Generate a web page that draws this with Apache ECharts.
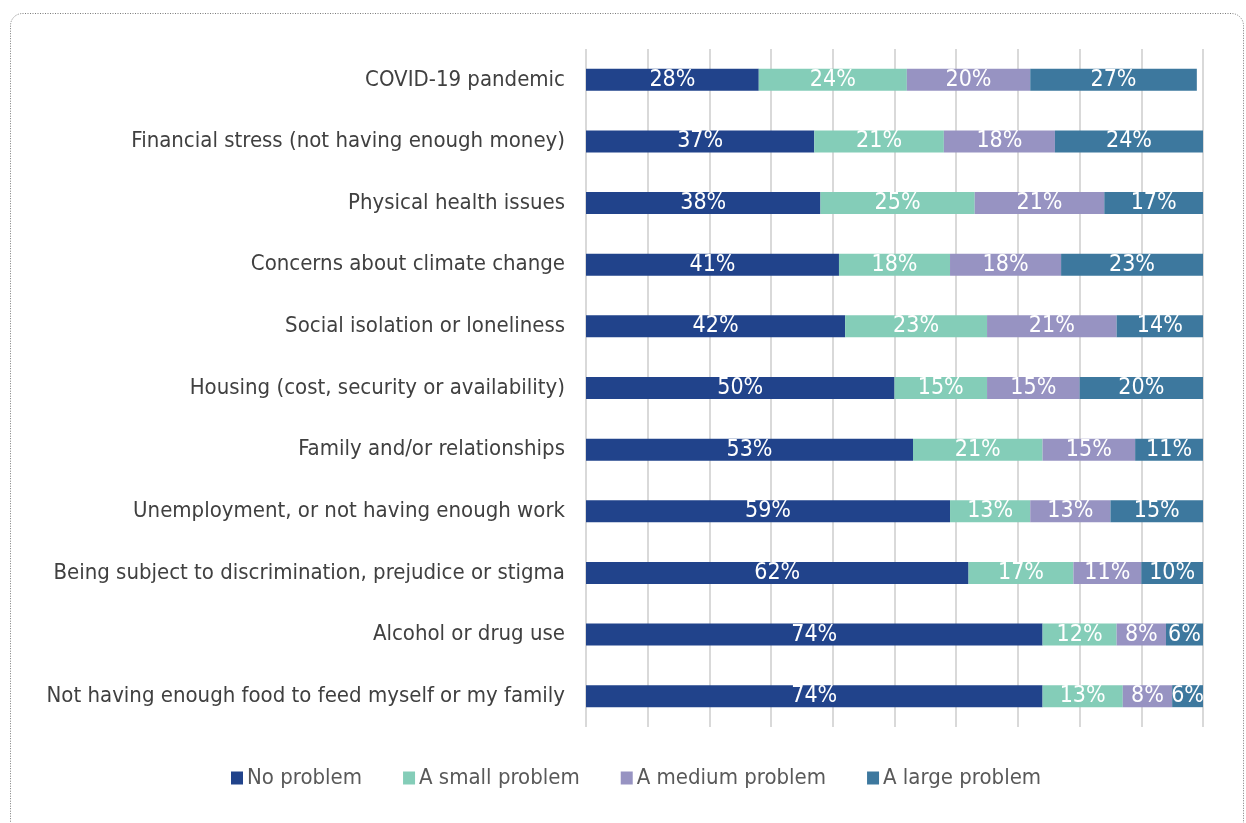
<!DOCTYPE html>
<html>
<head>
<meta charset="utf-8">
<style>
  html, body { margin: 0; padding: 0; background: #ffffff; }
  #chart { width: 1246px; height: 823px; }
</style>
<script src="https://cdn.jsdelivr.net/npm/echarts@6/dist/echarts.min.js"></script>
</head>
<body>
<div id="chart"></div>
<script>
// Issues rated by how much of a problem they are (percent of respondents)
const categories = [
  'COVID-19 pandemic',
  'Financial stress (not having enough money)',
  'Physical health issues',
  'Concerns about climate change',
  'Social isolation or loneliness',
  'Housing (cost, security or availability)',
  'Family and/or relationships',
  'Unemployment, or not having enough work',
  'Being subject to discrimination, prejudice or stigma',
  'Alcohol or drug use',
  'Not having enough food to feed myself or my family'
];
const noProblem     = [28, 37, 38, 41, 42, 50, 53, 59, 62, 74, 74];
const smallProblem  = [24, 21, 25, 18, 23, 15, 21, 13, 17, 12, 13];
const mediumProblem = [20, 18, 21, 18, 21, 15, 15, 13, 11, 8, 8];
const largeProblem  = [27, 24, 17, 23, 14, 20, 11, 15, 10, 6, 6];
const seriesNames = ['No problem', 'A small problem', 'A medium problem', 'A large problem'];
const seriesColors = ['#21438B', '#84CDB8', '#9793C2', '#3D789E'];

const FONT = '"DejaVu Sans Condensed", "Liberation Sans", Arial, sans-serif';

const chart = echarts.init(document.getElementById('chart'), null, { renderer: 'canvas' });

function makeSeries(name, values, color) {
  return {
    name: name,
    type: 'bar',
    stack: 'total',
    data: values,
    barWidth: 22,
    itemStyle: { color: color },
    label: {
      show: true,
      position: 'inside',
      formatter: '{c}%',
      color: '#ffffff',
      fontFamily: FONT,
      fontSize: 23
    }
  };
}

chart.setOption({
  animation: false,
  backgroundColor: '#ffffff',
  textStyle: { fontFamily: FONT },
  graphic: [{
    type: 'rect',
    silent: true,
    shape: { x: 10.5, y: 13.5, width: 1233, height: 840, r: 12 },
    style: { fill: null, stroke: '#7a7a7a', lineWidth: 1, lineDash: [1, 1.5] }
  }],
  legend: {
    data: seriesNames,
    bottom: 29,
    left: 226,
    itemWidth: 12,
    itemHeight: 13,
    itemGap: 41,
    icon: 'rect',
    textStyle: { fontFamily: FONT, fontSize: 22, color: '#595959', padding: [0, 0, 0, -1] }
  },
  grid: { left: 586, right: 43, top: 49, bottom: 96, containLabel: false },
  xAxis: {
    type: 'value',
    min: 0,
    max: 100,
    interval: 10,
    axisLabel: { show: false },
    axisLine: { show: false },
    axisTick: { show: false },
    splitLine: { show: true, lineStyle: { color: '#d9d9d9', width: 2 } }
  },
  yAxis: {
    type: 'category',
    data: categories,
    inverse: true,
    axisLine: { show: false },
    axisTick: { show: false },
    axisLabel: { margin: 21, color: '#404040', fontFamily: FONT, fontSize: 22 }
  },
  series: [
    makeSeries(seriesNames[0], noProblem, seriesColors[0]),
    makeSeries(seriesNames[1], smallProblem, seriesColors[1]),
    makeSeries(seriesNames[2], mediumProblem, seriesColors[2]),
    makeSeries(seriesNames[3], largeProblem, seriesColors[3])
  ]
});
</script>
</body>
</html>
